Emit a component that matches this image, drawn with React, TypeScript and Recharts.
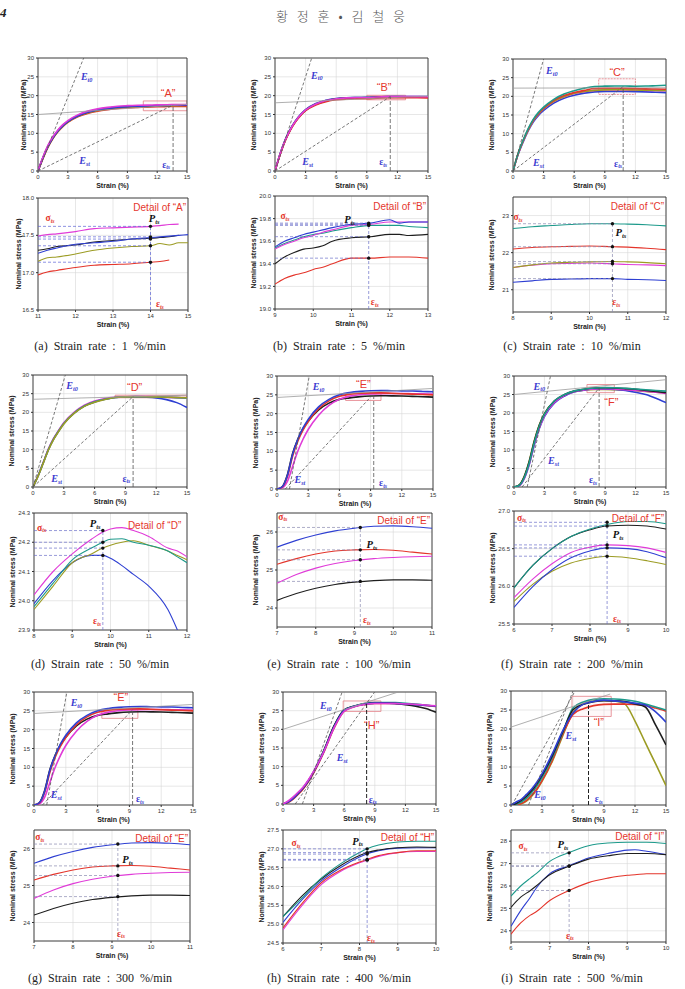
import React from "react";
import {
  ComposedChart,
  Line,
  XAxis,
  YAxis,
  CartesianGrid,
  ReferenceLine,
  ReferenceArea,
  ReferenceDot,
} from "recharts";

const SANS = "'Liberation Sans', Arial, sans-serif";
const SERIF = "'Liberation Serif', 'Times New Roman', serif";

const RED = "#e4352b";
const MAG = "#e03bd8";
const BLUE = "#2e3fd2";
const BLACK = "#1e1e1e";
const OLIVE = "#9c9c24";
const TEAL = "#1d9a8b";

// full-range curves share these strain samples (%)
const ovStrain = [0, 0.5, 1, 1.5, 2, 2.5, 3, 4, 5, 6, 7, 8, 9, 10, 11, 12, 13, 14, 15];

// (a) 1 %/min
const aRed = [0, 3.3, 6.3, 8.6, 10.4, 11.8, 12.9, 14.4, 15.3, 15.9, 16.3, 16.6, 16.8, 16.9, 16.97, 17.07, 17.11, 17.14, 17.17];
const aOlive = [0, 3.4, 6.4, 8.7, 10.5, 11.9, 13.0, 14.5, 15.5, 16.1, 16.5, 16.8, 17.0, 17.1, 17.15, 17.25, 17.33, 17.36, 17.4];
const aBlack = [0, 3.6, 6.6, 8.9, 10.7, 12.1, 13.2, 14.7, 15.7, 16.3, 16.7, 17.0, 17.15, 17.25, 17.3, 17.37, 17.43, 17.46, 17.5];
const aBlue = [0, 3.5, 6.5, 8.8, 10.6, 12.0, 13.1, 14.6, 15.6, 16.2, 16.6, 16.9, 17.1, 17.2, 17.27, 17.38, 17.42, 17.47, 17.51];
const aMag = [0, 3.7, 6.8, 9.1, 10.9, 12.3, 13.4, 14.9, 15.9, 16.5, 16.9, 17.2, 17.35, 17.45, 17.5, 17.55, 17.6, 17.62, 17.65];

// (b) 5 %/min
const bBlue = [0, 4.6, 8.3, 11.1, 13.3, 15.0, 16.3, 17.9, 18.8, 19.25, 19.45, 19.52, 19.55, 19.68, 19.75, 19.79, 19.77, 19.76, 19.74];
const bTeal = [0, 4.5, 8.2, 11.0, 13.2, 14.9, 16.2, 17.8, 18.7, 19.2, 19.42, 19.5, 19.54, 19.66, 19.72, 19.74, 19.72, 19.7, 19.68];
const bBlack = [0, 4.4, 8.1, 10.9, 13.1, 14.8, 16.1, 17.7, 18.6, 19.1, 19.3, 19.37, 19.4, 19.54, 19.63, 19.66, 19.66, 19.64, 19.62];
const bRed = [0, 4.3, 8.0, 10.8, 13.0, 14.7, 16.0, 17.5, 18.4, 18.9, 19.1, 19.18, 19.22, 19.35, 19.45, 19.46, 19.45, 19.43, 19.4];
const bMag = [0, 4.5, 8.2, 11.0, 13.2, 14.9, 16.2, 17.8, 18.7, 19.2, 19.42, 19.5, 19.53, 19.65, 19.74, 19.77, 19.77, 19.75, 19.72];

// (c) 10 %/min
const cBlue = [0, 4.4, 7.8, 10.8, 13.2, 14.9, 16.2, 18.2, 19.5, 20.3, 20.85, 21.2, 21.28, 21.3, 21.28, 21.25, 21.2, 21.1, 21.0];
const cMag = [0, 4.5, 8.0, 11.0, 13.5, 15.2, 16.6, 18.6, 19.85, 20.75, 21.25, 21.6, 21.7, 21.72, 21.68, 21.65, 21.6, 21.55, 21.5];
const cOlive = [0, 4.6, 8.1, 11.1, 13.6, 15.3, 16.7, 18.7, 19.9, 20.8, 21.3, 21.6, 21.72, 21.75, 21.75, 21.7, 21.65, 21.6, 21.55];
const cRed = [0, 4.6, 8.2, 11.2, 13.7, 15.4, 16.8, 18.9, 20.2, 21.0, 21.6, 22.1, 22.16, 22.18, 22.15, 22.08, 22.0, 21.95, 21.9];
const cTeal = [0, 4.7, 8.3, 11.4, 13.9, 15.7, 17.1, 19.2, 20.6, 21.5, 22.2, 22.65, 22.73, 22.78, 22.77, 22.72, 22.75, 22.85, 22.95];

// (d) 50 %/min
const dBlue = [0, 3.0, 6.5, 10.0, 12.8, 15.0, 17.0, 19.8, 21.7, 22.8, 23.5, 23.99, 24.13, 24.14, 24.05, 23.85, 23.4, 22.6, 21.3];
const dMag = [0, 3.1, 6.6, 10.2, 13.0, 15.2, 17.2, 20.0, 21.9, 23.0, 23.7, 24.02, 24.16, 24.245, 24.22, 24.15, 24.05, 23.95, 23.8];
const dTeal = [0, 3.0, 6.5, 10.0, 12.8, 15.0, 17.0, 19.8, 21.7, 22.8, 23.5, 23.98, 24.14, 24.21, 24.19, 24.13, 24.05, 23.95, 23.85];
const dOlive = [0, 2.9, 6.4, 9.9, 12.7, 14.9, 16.9, 19.7, 21.6, 22.7, 23.45, 23.97, 24.13, 24.19, 24.19, 24.14, 24.06, 23.97, 23.9];

// (e) 100 %/min, (g) 300 %/min
const eBlack = [0, 0.6, 3.8, 9.4, 13.2, 16.0, 18.0, 21.0, 22.8, 23.8, 24.2, 24.52, 24.68, 24.74, 24.73, 24.7, 24.6, 24.5, 24.4];
const eMag = [0, 0.3, 2.0, 6.0, 10.0, 13.2, 15.8, 19.6, 22.2, 23.8, 24.65, 25.05, 25.25, 25.33, 25.36, 25.35, 25.3, 25.25, 25.2];
const eRed = [0, 0.5, 3.3, 8.7, 12.7, 15.6, 17.9, 21.3, 23.4, 24.6, 25.15, 25.42, 25.53, 25.52, 25.42, 25.3, 25.2, 25.1, 25.0];
const eBlue = [0, 0.6, 3.6, 9.2, 13.2, 16.2, 18.5, 21.8, 23.8, 25.0, 25.6, 25.92, 26.1, 26.16, 26.1, 26.05, 26.0, 25.9, 25.8];

// (f) 200 %/min
const fOlive = [0, 0.5, 2.8, 7.0, 12.5, 16.8, 19.8, 23.2, 24.8, 25.8, 26.2, 26.37, 26.38, 26.29, 26.15, 26.0, 25.8, 25.6, 25.4];
const fBlue = [0, 0.3, 2.2, 6.0, 11.3, 15.8, 19.0, 22.7, 24.6, 25.72, 26.22, 26.47, 26.5, 26.38, 26.1, 25.6, 25.0, 24.0, 22.8];
const fMag = [0, 0.3, 2.3, 6.2, 11.6, 16.0, 19.2, 22.9, 24.8, 25.85, 26.3, 26.52, 26.54, 26.45, 26.3, 26.1, 25.9, 25.6, 25.3];
const fBlack = [0, 0.5, 2.7, 6.8, 12.3, 16.7, 19.7, 23.3, 25.0, 25.98, 26.5, 26.75, 26.81, 26.76, 26.6, 26.4, 26.1, 25.8, 25.5];
const fTeal = [0, 0.4, 2.5, 6.5, 12.0, 16.5, 19.6, 23.3, 25.0, 25.98, 26.5, 26.76, 26.86, 26.83, 26.7, 26.5, 26.3, 26.1, 25.9];

// (h) 400 %/min
const hTeal = [0, 0.5, 1.5, 2.8, 4.3, 6.2, 8.5, 14.2, 20.8, 25.2, 26.22, 26.9, 27.18, 27.2, 27.15, 27.0, 26.8, 26.5, 26.2];
const hRed = [0, 0.4, 1.3, 2.6, 4.1, 6.0, 8.3, 13.8, 20.3, 24.9, 26.1, 26.65, 26.9, 26.95, 26.9, 26.8, 26.6, 26.4, 26.1];
const hBlack = [0, 0.6, 1.6, 2.9, 4.4, 6.3, 8.6, 14.3, 20.9, 25.2, 26.2, 26.82, 27.03, 27.04, 26.9, 26.6, 26.2, 25.6, 24.6];
const hBlue = [0, 0.5, 1.5, 2.9, 4.4, 6.3, 8.6, 14.1, 20.6, 25.05, 26.15, 26.78, 27.02, 27.03, 26.95, 26.8, 26.6, 26.4, 26.2];
const hMag = [0, 0.8, 1.9, 3.2, 4.6, 6.5, 8.7, 14.0, 20.4, 24.85, 26.05, 26.63, 26.9, 26.93, 26.9, 26.8, 26.7, 26.5, 26.3];

// (i) 500 %/min
const iOlive = [0, 0, 0.3, 1.0, 2.3, 4.0, 6.2, 11.5, 18.2, 24.3, 26.6, 27.3, 27.5, 27.4, 26.6, 22.1, 16.4, 10.8, 5.1];
const iRed = [0, 0.1, 0.4, 1.2, 2.6, 4.2, 6.4, 11.8, 18.5, 23.85, 25.35, 26.15, 26.48, 26.55, 26.55, 26.45, 26.2, 25.5, 24.7];
const iTeal = [0, 0.2, 0.8, 1.8, 3.3, 5.0, 7.2, 12.5, 19.0, 25.55, 27.1, 27.8, 27.95, 27.9, 27.7, 27.3, 26.6, 25.8, 25.0];
const iBlack = [0, 0.4, 1.2, 2.3, 3.8, 5.6, 7.8, 13.0, 19.2, 25.05, 26.5, 27.2, 27.45, 27.4, 27.2, 26.6, 25.8, 21.0, 15.8];
const iBlue = [0, 0.8, 1.5, 2.8, 4.2, 6.0, 8.2, 13.5, 19.5, 24.2, 26.55, 27.25, 27.6, 27.4, 27.1, 26.8, 26.3, 24.5, 21.8];

// detail windows
const aStrain = [11, 11.25, 11.5, 12, 12.5, 13, 13.5, 14, 14.25, 14.5, 14.75, 15];
const aDetRed = [16.97, 17.01, 17.03, 17.07, 17.1, 17.11, 17.12, 17.14, 17.15, 17.17];
const aDetOlive = [17.15, 17.2, 17.21, 17.25, 17.3, 17.33, 17.35, 17.36, 17.39, 17.37, 17.4, 17.4];
const aDetBlack = [17.3, 17.32, 17.35, 17.37, 17.41, 17.43, 17.45, 17.46, 17.47, 17.48, 17.5];
const aDetBlue = [17.26, 17.3, 17.33, 17.38, 17.4, 17.42, 17.45, 17.47, 17.48, 17.49, 17.5, 17.51];
const aDetMag = [17.49, 17.51, 17.52, 17.55, 17.59, 17.6, 17.61, 17.62, 17.63, 17.645, 17.65];
const aSig = [17.62, 17.48, 17.45, 17.36, 17.14];

const bStrain = [9, 9.25, 9.5, 9.75, 10, 10.25, 10.5, 11, 11.5, 12, 12.25, 12.5, 13];
const bDetRed = [19.22, 19.27, 19.3, 19.32, 19.35, 19.37, 19.4, 19.45, 19.45, 19.46, 19.46, 19.46, 19.45];
const bDetBlack = [19.4, 19.46, 19.5, 19.53, 19.54, 19.56, 19.6, 19.63, 19.64, 19.66, 19.66, 19.65, 19.66];
const bDetTeal = [19.54, 19.58, 19.61, 19.64, 19.66, 19.67, 19.69, 19.72, 19.74, 19.74, 19.74, 19.73, 19.72];
const bDetMag = [19.53, 19.57, 19.6, 19.63, 19.65, 19.68, 19.7, 19.74, 19.75, 19.77, 19.77, 19.77, 19.77];
const bDetBlue = [19.55, 19.6, 19.63, 19.66, 19.68, 19.7, 19.72, 19.75, 19.76, 19.79, 19.76, 19.77, 19.77];
const bSig = [19.76, 19.75, 19.74, 19.64, 19.45];

const cStrain = [8, 8.5, 9, 9.5, 10, 10.6, 11, 11.5, 12];
const cDetTeal = [22.65, 22.7, 22.73, 22.76, 22.78, 22.78, 22.77, 22.75, 22.72];
const cDetRed = [22.1, 22.14, 22.16, 22.17, 22.18, 22.16, 22.15, 22.12, 22.08];
const cDetOlive = [21.6, 21.67, 21.72, 21.74, 21.75, 21.76, 21.75, 21.73, 21.7];
const cDetMag = [21.6, 21.66, 21.7, 21.71, 21.72, 21.7, 21.68, 21.67, 21.65];
const cDetBlue = [21.2, 21.24, 21.28, 21.29, 21.3, 21.3, 21.28, 21.27, 21.25];
const cSig = [22.78, 22.16, 21.76, 21.7, 21.3];

const dStrain = [8, 8.5, 9, 9.5, 9.8, 10, 10.3, 10.6, 11, 11.5, 11.75, 12];
const dDetMag = [24.02, 24.1, 24.16, 24.21, 24.235, 24.245, 24.25, 24.24, 24.22, 24.18, 24.17, 24.15];
const dDetTeal = [23.98, 24.06, 24.14, 24.18, 24.2, 24.21, 24.212, 24.2, 24.19, 24.17, 24.15, 24.13];
const dDetOlive = [23.97, 24.05, 24.13, 24.16, 24.18, 24.19, 24.2, 24.205, 24.19, 24.17, 24.155, 24.14];
const dDetBlue = [23.99, 24.07, 24.13, 24.155, 24.155, 24.145, 24.12, 24.09, 24.05, 23.97, 23.9];
const dSig = [24.24, 24.2, 24.18, 24.155];

const eStrain = [7, 7.5, 8, 8.5, 9, 9.5, 10, 10.5, 11];
const eDetBlue = [25.6, 25.78, 25.92, 26.03, 26.1, 26.15, 26.16, 26.14, 26.1];
const eDetRed = [25.15, 25.3, 25.42, 25.5, 25.53, 25.54, 25.52, 25.47, 25.42];
const eDetMag = [24.65, 24.88, 25.05, 25.17, 25.25, 25.3, 25.33, 25.35, 25.36];
const eDetBlack = [24.2, 24.38, 24.52, 24.62, 24.68, 24.72, 24.74, 24.74, 24.73];
const eSig = [26.12, 25.53, 25.27, 24.7];

const fStrain = [6, 6.5, 7, 7.5, 8, 8.45, 9, 9.5, 10];
const fDetOlive = [25.8, 26.03, 26.2, 26.31, 26.37, 26.4, 26.38, 26.34, 26.29];
const fDetBlue = [25.72, 26.0, 26.22, 26.38, 26.47, 26.51, 26.5, 26.46, 26.38];
const fDetMag = [25.85, 26.1, 26.3, 26.45, 26.52, 26.55, 26.54, 26.51, 26.45];
const fDetBlack = [25.98, 26.28, 26.5, 26.66, 26.75, 26.8, 26.81, 26.8, 26.76];
const fDetTeal = [25.98, 26.28, 26.5, 26.66, 26.76, 26.82, 26.86, 26.86, 26.83];
const fSig = [26.85, 26.8, 26.55, 26.51, 26.4];

const hStrain = [6, 6.5, 7, 7.5, 8, 8.2, 8.5, 9, 9.5, 10];
const hDetMag = [24.85, 25.5, 26.05, 26.4, 26.63, 26.7, 26.8, 26.9, 26.93, 26.93];
const hDetRed = [24.9, 25.55, 26.1, 26.43, 26.65, 26.72, 26.82, 26.9, 26.95, 26.95];
const hDetBlue = [25.05, 25.65, 26.15, 26.5, 26.78, 26.87, 26.95, 27.02, 27.03, 27.03];
const hDetBlack = [25.2, 25.75, 26.2, 26.55, 26.82, 26.9, 26.97, 27.03, 27.05, 27.04];
const hDetTeal = [25.2, 25.7, 26.22, 26.6, 26.9, 27.0, 27.1, 27.18, 27.2, 27.2];
const hSig = [27.0, 26.9, 26.86, 26.72, 26.7];

const iStrain = [6, 6.25, 6.5, 6.65, 7, 7.5, 8, 8.5, 9, 9.2, 9.5, 10];
const iDetRed = [23.85, 24.35, 24.7, 24.85, 25.35, 25.8, 26.15, 26.35, 26.48, 26.5, 26.55, 26.55];
const iDetBlue = [24.2, 24.9, 25.5, 25.9, 26.55, 26.9, 27.25, 27.45, 27.6, 27.62, 27.55, 27.4];
const iDetBlack = [25.05, 25.5, 25.8, 26.0, 26.5, 26.88, 27.2, 27.35, 27.45, 27.45, 27.45, 27.4];
const iDetTeal = [25.55, 26.0, 26.35, 26.55, 27.1, 27.5, 27.8, 27.92, 27.95, 27.95, 27.95, 27.9];
const iSig = [27.48, 26.9, 26.88, 25.8];

const ovTicksX = [0, 3, 6, 9, 12, 15];
const ovTicksY = [0, 5, 10, 15, 20, 25, 30];

type Pt = [number, number];
interface Series {
  xs: number[];
  ys: number[];
  color: string;
}
type Box = [number, number, number, number];

const s = (xs: number[], ys: number[], color: string): Series => ({ xs, ys, color });

interface Ov {
  tag: string;
  box: Box;
  series: Series[];
  et0: [Pt, Pt];
  est: [Pt, Pt];
  gray: [Pt, Pt];
  eps: Pt;
  zoom: [number, number, number, number];
  zoomFill?: boolean;
  zoomDash?: string;
  epsDark?: boolean;
  lEt0: Pt;
  lTag: Pt;
  lEst: Pt;
  lEps: Pt;
  yTitleGap?: number;
}

interface Dt {
  tag: string;
  box: Box;
  xDomain: Pt;
  xTicks: number[];
  yDomain: Pt;
  yTicks: number[];
  digits: number;
  series: Series[];
  sig: number[];
  eps: number;
  guide: string;
  lSig: Pt;
  lP: Pt;
  lEps: Pt;
  lDet: Pt;
  yTitleGap?: number;
}

const overviews: Ov[] = [
  {
    tag: "A", box: [38, 58, 187, 171],
    series: [s(ovStrain, aRed, RED), s(ovStrain, aOlive, OLIVE), s(ovStrain, aBlack, BLACK), s(ovStrain, aBlue, BLUE), s(ovStrain, aMag, MAG)],
    et0: [[0, 0], [4.6, 30]], est: [[0, 0], [13.6, 17.5]], gray: [[0, 15], [15, 17.7]], eps: [13.6, 17.5],
    zoom: [10.6, 15, 16.0, 18.6], lEt0: [4.9, 25.2], lTag: [13.1, 20.6], lEst: [4.7, 3.0], lEps: [12.9, 1.7], yTitleGap: 14,
  },
  {
    tag: "B", box: [275, 58, 428, 171],
    series: [s(ovStrain, bBlue, BLUE), s(ovStrain, bTeal, TEAL), s(ovStrain, bBlack, BLACK), s(ovStrain, bRed, RED), s(ovStrain, bMag, MAG)],
    et0: [[0, 0], [3.6, 30]], est: [[0, 0], [11.3, 19.75]], gray: [[0, 18.1], [15, 19.9]], eps: [11.3, 19.75],
    zoom: [9, 12.8, 18.9, 20.1], zoomFill: true, lEt0: [4.1, 25.6], lTag: [10.7, 22.2], lEst: [3.2, 2.7], lEps: [10.6, 2.3],
  },
  {
    tag: "C", box: [513, 59, 666, 171],
    series: [s(ovStrain, cBlue, BLUE), s(ovStrain, cMag, MAG), s(ovStrain, cOlive, OLIVE), s(ovStrain, cRed, RED), s(ovStrain, cTeal, TEAL)],
    et0: [[0, 0], [3.0, 30]], est: [[0, 0], [10.8, 22.6]], gray: [[0, 22.2], [15, 22.3]], eps: [10.8, 22.6],
    zoom: [8.4, 12, 20.5, 24.7], zoomDash: "2 1", lEt0: [3.8, 27], lTag: [10.2, 26.5], lEst: [2.5, 2.3], lEps: [10.3, 2.0],
  },
  {
    tag: "D", box: [33, 375, 187, 487],
    series: [s(ovStrain, dBlue, BLUE), s(ovStrain, dMag, MAG), s(ovStrain, dTeal, TEAL), s(ovStrain, dOlive, OLIVE)],
    et0: [[0, 0], [3.15, 30]], est: [[0, 0], [9.75, 24.2]], gray: [[0, 23.5], [15, 24.6]], eps: [9.75, 24.2],
    zoom: [8, 15, 23.9, 24.6], zoomFill: true, lEt0: [3.8, 27.4], lTag: [9.9, 26.8], lEst: [2.3, 2.4], lEps: [9.1, 2.2],
  },
  {
    tag: "E", box: [277, 376, 433, 489],
    series: [s(ovStrain, eBlack, BLACK), s(ovStrain, eMag, MAG), s(ovStrain, eRed, RED), s(ovStrain, eBlue, BLUE)],
    et0: [[1.2, 0], [3.1, 30]], est: [[0.8, 0], [9.3, 25.3]], gray: [[0, 24.3], [15, 26.7]], eps: [9.3, 25.3],
    zoom: [6.6, 10, 23.5, 25.3], lEt0: [4.0, 27.3], lTag: [8.3, 27.8], lEst: [2.2, 2.7], lEps: [10.2, 1.6],
  },
  {
    tag: "F", box: [514, 376, 666, 487],
    series: [s(ovStrain, fOlive, OLIVE), s(ovStrain, fBlue, BLUE), s(ovStrain, fMag, MAG), s(ovStrain, fBlack, BLACK), s(ovStrain, fTeal, TEAL)],
    et0: [[1.3, 0], [3.6, 30]], est: [[0.8, 0], [8.4, 26.8]], gray: [[0, 25], [15, 29]], eps: [8.4, 26.8],
    zoom: [7.2, 9.9, 25.5, 27.7], lEt0: [2.5, 27.4], lTag: [9.6, 23.1], lEst: [3.9, 7.3], lEps: [7.8, 1.8],
  },
  {
    tag: "E", box: [34, 692, 193, 805],
    series: [s(ovStrain, eBlack, BLACK), s(ovStrain, eMag, MAG), s(ovStrain, eRed, RED), s(ovStrain, eBlue, BLUE)],
    et0: [[1.2, 0], [3.1, 30]], est: [[0.8, 0], [9.3, 25.3]], gray: [[0, 24.3], [15, 26.7]], eps: [9.3, 25.3],
    zoom: [6.4, 9.8, 23.0, 25.3], lEt0: [4.0, 27.3], lTag: [8.2, 28.6], lEst: [2.1, 2.8], lEps: [10.0, 1.5],
  },
  {
    tag: "H", box: [283, 692, 436, 804],
    series: [s(ovStrain, hTeal, TEAL), s(ovStrain, hRed, RED), s(ovStrain, hBlack, BLACK), s(ovStrain, hBlue, BLUE), s(ovStrain, hMag, MAG)],
    et0: [[1.9, 0], [5.8, 30]], est: [[1.2, 0], [8.98, 30]], gray: [[0, 20], [11.3, 30]], eps: [8.2, 27.0],
    zoom: [5.9, 9.6, 24.8, 27.6], epsDark: true, lEt0: [4.2, 26.4], lTag: [8.7, 21.2], lEst: [5.8, 12.5], lEps: [8.8, 1.2],
  },
  {
    tag: "I", box: [511, 691, 666, 805],
    series: [s(ovStrain, iOlive, OLIVE), s(ovStrain, iRed, RED), s(ovStrain, iTeal, TEAL), s(ovStrain, iBlack, BLACK), s(ovStrain, iBlue, BLUE)],
    et0: [[1.7, 0], [6.0, 30]], est: [[0.1, 0], [6.2, 30]], gray: [[0, 20.5], [9.6, 29.2]], eps: [7.5, 26.9],
    zoom: [5.9, 9.7, 23.3, 28.6], epsDark: true, lEt0: [2.8, 2.8], lTag: [8.5, 21.9], lEst: [5.8, 18.5], lEps: [8.5, 1.5],
  },
];

const details: Dt[] = [
  {
    tag: "A", box: [38, 198, 188, 310], xDomain: [11, 15], xTicks: [11, 12, 13, 14, 15],
    yDomain: [16.5, 18], yTicks: [16.5, 17, 17.5, 18], digits: 1,
    series: [s(aStrain, aDetRed, RED), s(aStrain, aDetOlive, OLIVE), s(aStrain, aDetBlack, BLACK), s(aStrain, aDetBlue, BLUE), s(aStrain, aDetMag, MAG)],
    sig: aSig, eps: 14, guide: "#5c63d6", lSig: [11.32, 17.73], lP: [14.1, 17.73], lEps: [14.25, 16.58], lDet: [14.95, 17.88], yTitleGap: 19,
  },
  {
    tag: "B", box: [275, 196, 428, 309], xDomain: [9, 13], xTicks: [9, 10, 11, 12, 13],
    yDomain: [19, 20], yTicks: [19, 19.2, 19.4, 19.6, 19.8, 20], digits: 1,
    series: [s(bStrain, bDetRed, RED), s(bStrain, bDetBlack, BLACK), s(bStrain, bDetTeal, TEAL), s(bStrain, bDetMag, MAG), s(bStrain, bDetBlue, BLUE)],
    sig: bSig, eps: 11.45, guide: "#6b70c8", lSig: [9.26, 19.82], lP: [10.95, 19.8], lEps: [11.61, 19.06], lDet: [12.95, 19.91],
  },
  {
    tag: "C", box: [513, 197, 666, 312], xDomain: [8, 12], xTicks: [8, 9, 10, 11, 12],
    yDomain: [20.4, 23.5], yTicks: [21, 22, 23], digits: 0,
    series: [s(cStrain, cDetBlue, BLUE), s(cStrain, cDetMag, MAG), s(cStrain, cDetOlive, OLIVE), s(cStrain, cDetRed, RED), s(cStrain, cDetTeal, TEAL)],
    sig: cSig, eps: 10.6, guide: "#8a8ab0", lSig: [8.13, 22.96], lP: [10.82, 22.56], lEps: [10.7, 20.67], lDet: [11.95, 23.26],
  },
  {
    tag: "D", box: [34, 513, 187, 630], xDomain: [8, 12], xTicks: [8, 9, 10, 11, 12],
    yDomain: [23.9, 24.3], yTicks: [23.9, 24.0, 24.1, 24.2, 24.3], digits: 1,
    series: [s(dStrain, dDetBlue, BLUE), s(dStrain, dDetOlive, OLIVE), s(dStrain, dDetTeal, TEAL), s(dStrain, dDetMag, MAG)],
    sig: dSig, eps: 9.8, guide: "#6b70c8", lSig: [8.2, 24.25], lP: [9.6, 24.265], lEps: [9.65, 23.93], lDet: [11.85, 24.26],
  },
  {
    tag: "E", box: [277, 513, 432, 627], xDomain: [7, 11], xTicks: [7, 8, 9, 10, 11],
    yDomain: [23.5, 26.5], yTicks: [24, 25, 26], digits: 0,
    series: [s(eStrain, eDetBlack, BLACK), s(eStrain, eDetMag, MAG), s(eStrain, eDetRed, RED), s(eStrain, eDetBlue, BLUE)],
    sig: eSig, eps: 9.15, guide: "#8a8ab0", lSig: [7.15, 26.4], lP: [9.45, 25.68], lEps: [9.32, 23.68], lDet: [10.95, 26.32],
  },
  {
    tag: "F", box: [514, 511, 666, 624], xDomain: [6, 10], xTicks: [6, 7, 8, 9, 10],
    yDomain: [25.5, 27], yTicks: [25.5, 26, 26.5, 27], digits: 1,
    series: [s(fStrain, fDetOlive, OLIVE), s(fStrain, fDetBlue, BLUE), s(fStrain, fDetMag, MAG), s(fStrain, fDetBlack, BLACK), s(fStrain, fDetTeal, TEAL)],
    sig: fSig, eps: 8.45, guide: "#6b70c8", lSig: [6.2, 26.91], lP: [8.74, 26.7], lEps: [8.71, 25.57], lDet: [9.95, 26.91],
  },
  {
    tag: "E", box: [34, 830, 190, 941], xDomain: [7, 11], xTicks: [7, 8, 9, 10, 11],
    yDomain: [23.5, 26.5], yTicks: [24, 25, 26], digits: 0,
    series: [s(eStrain, eDetBlack, BLACK), s(eStrain, eDetMag, MAG), s(eStrain, eDetRed, RED), s(eStrain, eDetBlue, BLUE)],
    sig: eSig, eps: 9.15, guide: "#8a8ab0", lSig: [7.15, 26.3], lP: [9.4, 25.72], lEps: [9.23, 23.7], lDet: [10.95, 26.28],
  },
  {
    tag: "H", box: [283, 830, 436, 943], xDomain: [6, 10], xTicks: [6, 7, 8, 9, 10],
    yDomain: [24.5, 27.5], yTicks: [24.5, 25, 25.5, 26, 26.5, 27, 27.5], digits: 1,
    series: [s(hStrain, hDetMag, MAG), s(hStrain, hDetRed, RED), s(hStrain, hDetBlue, BLUE), s(hStrain, hDetBlack, BLACK), s(hStrain, hDetTeal, TEAL)],
    sig: hSig, eps: 8.2, guide: "#6b70c8", lSig: [6.34, 27.15], lP: [7.95, 27.22], lEps: [8.3, 24.62], lDet: [9.95, 27.31],
  },
  {
    tag: "I", box: [511, 830, 666, 942], xDomain: [6, 10], xTicks: [6, 7, 8, 9, 10],
    yDomain: [23.5, 28.5], yTicks: [24, 25, 26, 27, 28], digits: 0,
    series: [s(iStrain, iDetRed, RED), s(iStrain, iDetBlue, BLUE), s(iStrain, iDetBlack, BLACK), s(iStrain, iDetTeal, TEAL)],
    sig: iSig, eps: 7.5, guide: "#8a8ab0", lSig: [6.31, 27.79], lP: [7.34, 27.88], lEps: [7.52, 23.78], lDet: [9.95, 28.23],
  },
];

const captions = [
  { id: "a", rate: "1", x: 100, y: 350 },
  { id: "b", rate: "5", x: 339, y: 350 },
  { id: "c", rate: "10", x: 572, y: 350 },
  { id: "d", rate: "50", x: 100, y: 668 },
  { id: "e", rate: "100", x: 339, y: 668 },
  { id: "f", rate: "200", x: 572, y: 668 },
  { id: "g", rate: "300", x: 100, y: 982 },
  { id: "h", rate: "400", x: 339, y: 982 },
  { id: "i", rate: "500", x: 572, y: 982 },
];

// symbol with subscript, e.g. E_t0, σ_ts
function sym(main: string, sub: string, color: string, size: number, italic = true) {
  return [
    <tspan key="m" fill={color} fontSize={size} fontFamily={SERIF} fontStyle={italic ? "italic" : "normal"} fontWeight={700}>
      {main}
    </tspan>,
    <tspan key="s" fill={color} fontSize={size * 0.62} fontFamily={SERIF} fontStyle="italic" fontWeight={700} dy={size * 0.28}>
      {sub}
    </tspan>,
  ];
}

function label(key: string, at: Pt, body: React.ReactNode, anchor: "start" | "middle" | "end" = "middle") {
  return (
    <ReferenceDot
      key={key}
      x={at[0]}
      y={at[1]}
      r={0}
      fill="none"
      stroke="none"
      ifOverflow="visible"
      label={{
        content: (p: any) => {
          const vb = p.viewBox || {};
          return (
            <text x={vb.x} y={vb.y} textAnchor={anchor} dominantBaseline="central">
              {body}
            </text>
          );
        },
      }}
    />
  );
}

const seg = (a: Pt, b: Pt) => [{ x: a[0], y: a[1] }, { x: b[0], y: b[1] }];

function Plot(props: {
  box: Box;
  xDomain: Pt;
  xTicks: number[];
  yDomain: Pt;
  yTicks: number[];
  digits: number;
  series: Series[];
  width: number;
  extras: React.ReactNode[];
}) {
  const { box, xDomain, xTicks, yDomain, yTicks, digits, series, width, extras } = props;
  const [l, t, r, b] = box;
  const YW = 20;
  const XH = 10;
  const MT = 4;
  const MR = 4;
  const tick = { fontSize: 6, fill: "#333", fontFamily: SANS };
  return (
    <div style={{ position: "absolute", left: l - YW, top: t - MT }}>
      <ComposedChart
        width={r - l + YW + MR}
        height={b - t + MT + XH}
        margin={{ top: MT, right: MR, left: 0, bottom: 0 }}
      >
        <CartesianGrid stroke="#d6d6d6" strokeWidth={0.6} />
        <XAxis
          dataKey="x"
          type="number"
          domain={xDomain}
          ticks={xTicks}
          interval={0}
          allowDataOverflow
          height={XH}
          tickSize={2}
          axisLine={false}
          tick={tick}
          tickLine={{ stroke: "#333" }}
        />
        <YAxis
          type="number"
          domain={yDomain}
          ticks={yTicks}
          interval={0}
          allowDataOverflow
          width={YW}
          tickSize={2}
          axisLine={false}
          tick={tick}
          tickLine={{ stroke: "#333" }}
          tickFormatter={(v: number) => v.toFixed(digits)}
        />
        {series.map((sr, i) => (
          <Line
            key={i}
            data={sr.ys.map((y, j) => ({ x: sr.xs[j], y }))}
            dataKey="y"
            type="monotone"
            stroke={sr.color}
            strokeWidth={width}
            dot={false}
            isAnimationActive={false}
          />
        ))}
        {extras}
        <ReferenceArea
          x1={xDomain[0]}
          x2={xDomain[1]}
          y1={yDomain[0]}
          y2={yDomain[1]}
          fill="none"
          stroke="#333"
          strokeWidth={0.9}
        />
      </ComposedChart>
    </div>
  );
}

function Titles({ box, gap = 21 }: { box: Box; gap?: number }) {
  const [l, t, r, b] = box;
  const base: React.CSSProperties = {
    position: "absolute",
    fontFamily: SANS,
    fontWeight: 700,
    fontSize: 7,
    color: "#222",
    whiteSpace: "nowrap",
    lineHeight: "8px",
  };
  return (
    <>
      <div style={{ ...base, left: (l + r) / 2, top: b + 15, transform: "translate(-50%, -50%)" }}>Strain (%)</div>
      <div
        style={{
          ...base,
          left: l - gap,
          top: (t + b) / 2,
          transform: "translate(-50%, -50%) rotate(-90deg)",
        }}
      >
        Nominal stress (MPa)
      </div>
    </>
  );
}

function Overview({ o }: { o: Ov }) {
  const epsStroke = o.epsDark ? "#222" : "#555";
  const extras = [
    <ReferenceArea
      key="zoom"
      x1={o.zoom[0]}
      x2={o.zoom[1]}
      y1={o.zoom[2]}
      y2={o.zoom[3]}
      fill={o.zoomFill ? "#f2aebd" : "#fbe3e6"}
      fillOpacity={o.zoomFill ? 0.5 : 0.25}
      stroke="#e37f86"
      strokeWidth={0.8}
      strokeDasharray={o.zoomDash}
      ifOverflow="hidden"
    />,
    <ReferenceLine key="gray" segment={seg(o.gray[0], o.gray[1])} stroke="#9a9a9a" strokeWidth={0.8} ifOverflow="hidden" />,
    <ReferenceLine key="et0" segment={seg(o.et0[0], o.et0[1])} stroke="#555" strokeWidth={0.8} strokeDasharray="3 2" ifOverflow="hidden" />,
    <ReferenceLine key="est" segment={seg(o.est[0], o.est[1])} stroke="#555" strokeWidth={0.8} strokeDasharray="3 2" ifOverflow="hidden" />,
    <ReferenceLine
      key="eps"
      segment={seg([o.eps[0], 0], o.eps)}
      stroke={epsStroke}
      strokeWidth={o.epsDark ? 1 : 0.8}
      strokeDasharray="4 2"
      ifOverflow="hidden"
    />,
    label("lEt0", o.lEt0, sym("E", "t0", "#3b3bd0", 10)),
    label("lEst", o.lEst, sym("E", "st", "#3b3bd0", 10)),
    label("lEps", o.lEps, sym("ε", "ts", "#3b3bd0", 9.5, false)),
    label(
      "lTag",
      o.lTag,
      <tspan fill="#e5372e" fontSize={11} fontFamily={SANS}>
        {"\u201C" + o.tag + "\u201D"}
      </tspan>,
    ),
  ];
  return (
    <>
      <Plot
        box={o.box}
        xDomain={[0, 15]}
        xTicks={ovTicksX}
        yDomain={[0, 30]}
        yTicks={ovTicksY}
        digits={0}
        series={o.series}
        width={1.6}
        extras={extras}
      />
      <Titles box={o.box} gap={o.yTitleGap} />
    </>
  );
}

function Detail({ d }: { d: Dt }) {
  const top = Math.max(...d.sig);
  const extras = [
    ...d.sig.map((v, i) => (
      <ReferenceLine
        key={"h" + i}
        segment={seg([d.xDomain[0], v], [d.eps, v])}
        stroke={d.guide}
        strokeWidth={0.7}
        strokeDasharray="3 2"
        ifOverflow="hidden"
      />
    )),
    <ReferenceLine
      key="v"
      segment={seg([d.eps, d.yDomain[0]], [d.eps, top])}
      stroke={d.guide}
      strokeWidth={0.7}
      strokeDasharray="3 2"
      ifOverflow="hidden"
    />,
    ...d.sig.map((v, i) => (
      <ReferenceDot key={"p" + i} x={d.eps} y={v} r={1.7} fill="#111" stroke="none" ifOverflow="hidden" />
    )),
    label("lSig", d.lSig, sym("σ", "ts", "#e5372e", 9.5, false)),
    label("lP", d.lP, sym("P", "ts", "#111", 10.5)),
    label("lEps", d.lEps, sym("ε", "ts", "#e5372e", 9.5, false)),
    label(
      "lDet",
      d.lDet,
      <tspan fill="#e5372e" fontSize={10} fontFamily={SANS}>
        {"Detail of \u201C" + d.tag + "\u201D"}
      </tspan>,
      "end",
    ),
  ];
  return (
    <>
      <Plot
        box={d.box}
        xDomain={d.xDomain}
        xTicks={d.xTicks}
        yDomain={d.yDomain}
        yTicks={d.yTicks}
        digits={d.digits}
        series={d.series}
        width={1.1}
        extras={extras}
      />
      <Titles box={d.box} gap={d.yTitleGap} />
    </>
  );
}

export default function App() {
  return (
    <div
      style={{
        position: "absolute",
        left: 0,
        top: 0,
        width: 685,
        height: 989,
        background: "#fff",
        overflow: "hidden",
      }}
    >
      <div
        style={{
          position: "absolute",
          left: 0,
          top: 6,
          fontFamily: SERIF,
          fontWeight: 700,
          fontStyle: "italic",
          fontSize: 13,
          color: "#222",
          lineHeight: "14px",
        }}
      >
        4
      </div>
      <div
        style={{
          position: "absolute",
          left: 342,
          top: 15,
          transform: "translate(-50%, -50%)",
          fontFamily: "'Noto Sans CJK KR', sans-serif",
          fontWeight: 300,
          fontSize: 13,
          letterSpacing: 3,
          color: "#555",
          whiteSpace: "pre",
        }}
      >
        황 정 훈 • 김 철 웅
      </div>
      {overviews.map((o, i) => (
        <Overview key={"o" + i} o={o} />
      ))}
      {details.map((d, i) => (
        <Detail key={"d" + i} d={d} />
      ))}
      {captions.map((c) => (
        <div
          key={c.id}
          style={{
            position: "absolute",
            left: c.x,
            top: c.y - 11,
            transform: "translateX(-50%)",
            fontFamily: SERIF,
            fontSize: 12,
            lineHeight: "14px",
            color: "#222",
            whiteSpace: "pre",
          }}
        >
          {`(${c.id})  Strain  rate  :  ${c.rate}  %/min`}
        </div>
      ))}
    </div>
  );
}
